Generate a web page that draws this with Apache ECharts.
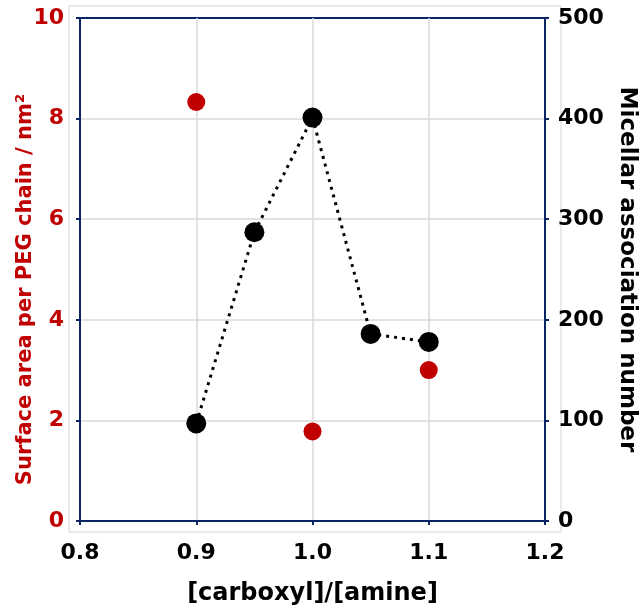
<!DOCTYPE html>
<html>
<head>
<meta charset="utf-8">
<script src="https://cdn.jsdelivr.net/npm/echarts@6/dist/echarts.min.js"></script>
<style>
  html, body { margin: 0; padding: 0; background: #fff; }
  #chart { width: 639px; height: 612px; }
</style>
</head>
<body>
<div id="chart"></div>
<script>
// surface area per PEG chain (left axis)
const areaX = [0.9, 1.0, 1.1];
const areaY = [8.33, 1.78, 3.0];
// micellar association number (right axis)
const aggX = [0.9, 0.95, 1.0, 1.05, 1.1];
const aggY = [97, 287, 401, 186, 178];

const navy = "#0b2566";
const red = "#c00000";
const font = "'DejaVu Sans', sans-serif";

const chart = echarts.init(document.getElementById("chart"));
chart.setOption({
  animation: false,
  // thin light frame around the plot area
  graphic: [{
    type: "rect",
    shape: { x: 69, y: 6, width: 492, height: 526 },
    style: { fill: "none", stroke: "#d4d4d4", lineWidth: 1 },
    z: -1
  }],
  grid: {
    left: 80, right: 94, top: 18, bottom: 91,
    outerBoundsMode: "none",
    show: true, borderColor: navy, borderWidth: 2
  },
  xAxis: {
    type: "value",
    min: 0.8, max: 1.2, interval: 0.1,
    name: "[carboxyl]/[amine]",
    nameLocation: "middle",
    nameGap: 61,
    nameMoveOverlap: false,
    nameTextStyle: { color: "#000", fontWeight: "bold", fontSize: 24, fontFamily: font },
    axisLine: { lineStyle: { color: navy, width: 2 } },
    axisTick: { show: true, inside: false, length: 4, lineStyle: { color: navy, width: 2 } },
    axisLabel: {
      color: "#000", fontWeight: "bold", fontSize: 22, fontFamily: font, margin: 21,
      formatter: v => v.toFixed(1)
    },
    splitLine: { show: true, showMinLine: false, showMaxLine: false, lineStyle: { color: "#d9d9d9", width: 1.5 } }
  },
  yAxis: [
    {
      type: "value",
      min: 0, max: 10, interval: 2,
      position: "left",
      name: "Surface area per PEG chain / nm\u00b2",
      nameLocation: "middle",
      nameGap: 44,
      nameMoveOverlap: false,
      nameTextStyle: { color: red, fontWeight: "bold", fontSize: 21, fontFamily: font, padding: [0, 40, 0, 0] },
      axisLine: { show: true, lineStyle: { color: navy, width: 2 } },
      axisTick: { show: true, length: 4, lineStyle: { color: navy, width: 2 } },
      axisLabel: { color: red, fontWeight: "bold", fontSize: 22, fontFamily: font, margin: 16 },
      splitLine: { show: true, showMinLine: false, showMaxLine: false, lineStyle: { color: "#d9d9d9", width: 1.5 } }
    },
    {
      type: "value",
      min: 0, max: 500, interval: 100,
      position: "right",
      name: "Micellar association number",
      nameLocation: "middle",
      nameRotate: -90,
      nameGap: 70,
      nameMoveOverlap: false,
      nameTextStyle: { color: "#000", fontWeight: "bold", fontSize: 23, fontFamily: font },
      axisLine: { show: true, lineStyle: { color: navy, width: 2 } },
      axisTick: { show: true, length: 4, lineStyle: { color: navy, width: 2 } },
      axisLabel: { color: "#000", fontWeight: "bold", fontSize: 22, fontFamily: font, margin: 13 },
      splitLine: { show: false }
    }
  ],
  series: [
    {
      name: "Micellar association number",
      type: "line",
      yAxisIndex: 1,
      data: aggX.map((x, i) => [x, aggY[i]]),
      symbol: "circle",
      symbolSize: 20,
      itemStyle: { color: "#000" },
      lineStyle: { color: "#000", width: 3, type: [3, 5] },
      z: 3
    },
    {
      name: "Surface area",
      type: "scatter",
      yAxisIndex: 0,
      data: areaX.map((x, i) => [x, areaY[i]]),
      symbolSize: 18,
      itemStyle: { color: red, opacity: 1 },
      z: 4
    }
  ]
});
</script>
</body>
</html>
